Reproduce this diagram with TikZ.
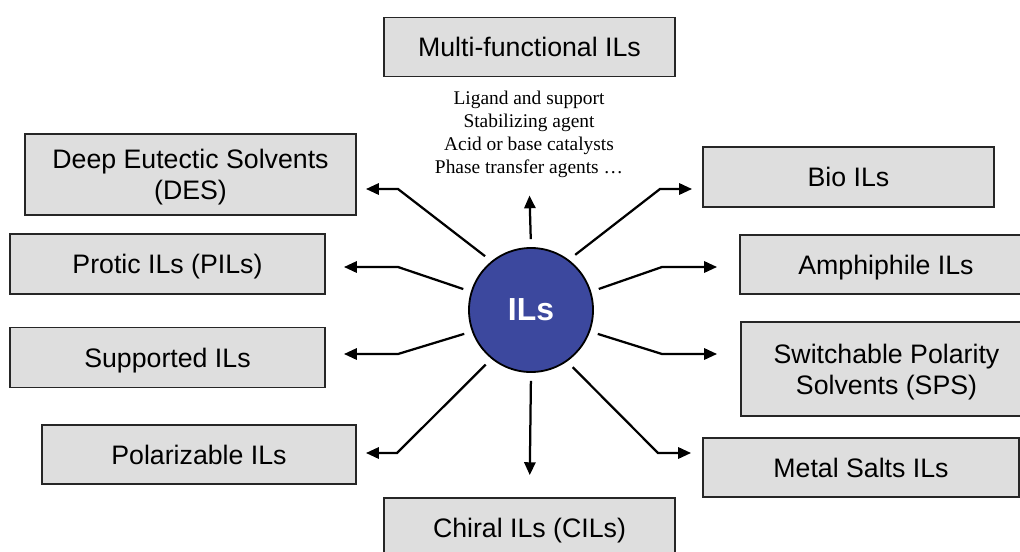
\documentclass[tikz,border=0pt]{standalone}
\usepackage{fontspec}
\setmainfont{Liberation Serif}
\setsansfont{Liberation Sans}
\usepackage{xcolor}
\usetikzlibrary{arrows.meta}

\definecolor{ilblue}{RGB}{60,72,158}
\definecolor{boxgray}{RGB}{222,222,222}

\begin{document}
\begin{tikzpicture}[x=0.025cm, y=-0.025cm,
    family/.style={draw=black!85, line width=1.3pt, fill=boxgray, inner sep=0pt,
      text depth=0pt, align=center, font=\sffamily\fontsize{19}{22}\selectfont},
    link/.style={line width=1.6pt, -{Triangle[length=0.32cm, width=0.28cm]},
      shorten <=0.2cm}]

    % the page is 1020 x 552 "pixels", y runs downwards like in the image
    \useasboundingbox (0,0) rectangle (1020,552);
    \clip (0,0) rectangle (1020,552);

    % the ionic liquid in the middle
    \node[circle, draw=black, line width=1.3pt, fill=ilblue, minimum size=3.1cm,
      text=white, font=\sffamily\bfseries\fontsize{22.7}{26}\selectfont] (ils) at (531,310) {ILs};

    % the boxes round it, top and bottom ones are cut off by the page on some sides
    \node[family, minimum width=7.275cm, minimum height=1.475cm] (multi) at (529.5,47) {Multi-functional ILs};
    \node[family, minimum width=7.275cm, minimum height=1.5cm] (chiral) at (529.5,528) {Chiral ILs (CILs)};
    \node[family, minimum width=8.275cm, minimum height=2.025cm] (des) at (190.5,174.5) {Deep Eutectic Solvents\\(DES)};
    \node[family, minimum width=7.875cm, minimum height=1.5cm] (protic) at (167.5,264) {Protic ILs (PILs)};
    \node[family, minimum width=7.875cm, minimum height=1.5cm] (supported) at (167.5,357.5) {Supported ILs};
    \node[family, minimum width=7.85cm, minimum height=1.475cm] (polar) at (199,454.5) {Polarizable ILs};
    \node[family, minimum width=7.275cm, minimum height=1.5cm] (bio) at (848.5,177) {Bio ILs};
    \node[family, minimum width=7.3cm, minimum height=1.475cm] (amphi) at (886,264.5) {Amphiphile ILs};
    \node[family, minimum width=7.275cm, minimum height=2.35cm] (switch) at (886.5,369) {Switchable Polarity\\Solvents (SPS)};
    \node[family, minimum width=7.9cm, minimum height=1.475cm] (metal) at (861,467.5) {Metal Salts ILs};

    % the list under the multi-functional box
    \node[inner sep=0pt, align=center, font=\fontsize{13.8}{16.3}\selectfont] (roles) at (529,134)
      {Ligand and support\\Stabilizing agent\\Acid or base catalysts\\Phase transfer agents …};

    % straight arrows up and down
    \draw[link, shorten >=0.45cm] (ils.north) -- (roles.south);
    \draw[link, shorten >=0.55cm] (ils.south) -- (chiral.north);

    % bent arrows to the left, the bend point is typed in
    \draw[link, shorten >=0.225cm] (ils.129) -- (398,189) -- (des.east |- 398,189);
    \draw[link, shorten >=0.45cm] (ils.163) -- (398,267) -- (protic.east |- 398,267);
    \draw[link, shorten >=0.45cm] (ils.200) -- (398,354) -- (supported.east |- 398,354);
    \draw[link, shorten >=0.225cm] (ils.231) -- (397,453) -- (polar.east |- 397,453);

    % and to the right
    \draw[link, shorten >=0.25cm] (ils.53) -- (660,189) -- (bio.west |- 660,189);
    \draw[link, shorten >=0.55cm] (ils.17) -- (662,267) -- (amphi.west |- 662,267);
    \draw[link, shorten >=0.575cm] (ils.340) -- (662,354) -- (switch.west |- 662,354);
    \draw[link, shorten >=0.275cm] (ils.305) -- (658,453) -- (metal.west |- 658,453);
\end{tikzpicture}
\end{document}
